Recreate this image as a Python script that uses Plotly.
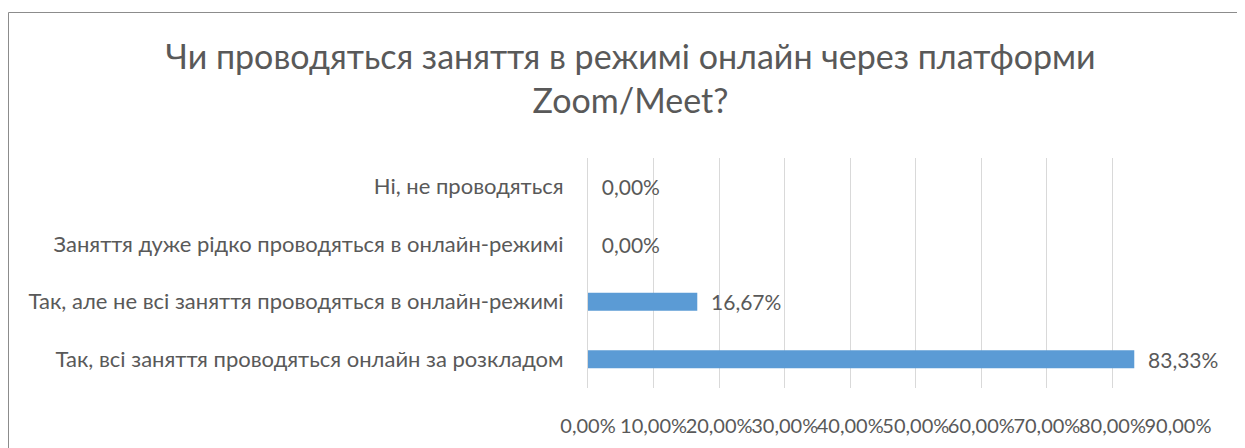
import plotly.graph_objects as go

categories = [
    "Ні, не проводяться",
    "Заняття дуже рідко проводяться в онлайн-режимі",
    "Так, але не всі заняття проводяться в онлайн-режимі",
    "Так, всі заняття проводяться онлайн за розкладом",
]
values = [0.0, 0.0, 0.1667, 0.8333]
x_ticks = [0.0, 0.1, 0.2, 0.3, 0.4, 0.5, 0.6, 0.7, 0.8, 0.9]
title_text = "Чи проводяться заняття в режимі онлайн через платформи<br>Zoom/Meet?"

FONT = "Lato, 'Open Sans', sans-serif"
GREY = "#595959"

W, H = 1245, 448
# page body has an 8px margin, so figure coords = window coords - 8
L, R, T, B = 580, 1170, 150, 380

fig = go.Figure(
    go.Bar(
        x=values,
        y=categories,
        orientation="h",
        marker=dict(color="#5b9bd5", line=dict(width=0)),
        texttemplate="\u00a0\u00a0%{x:.2%}",
        textposition="outside",
        constraintext="none",
        textfont=dict(family=FONT, size=21, color=GREY),
        cliponaxis=False,
    )
)

def px_to_paper_x(px):
    return (px - L) / (R - L)

def px_to_paper_y(py):
    return (B - py) / (B - T)

fig.add_shape(
    type="rect", xref="paper", yref="paper",
    x0=px_to_paper_x(0.5), x1=px_to_paper_x(1231),
    y0=px_to_paper_y(470), y1=px_to_paper_y(4.5),
    line=dict(color="#8c8c8c", width=1), fillcolor="rgba(0,0,0,0)", layer="below",
)

fig.update_layout(
    width=W, height=H,
    margin=dict(l=L, r=W - R, t=T, b=H - B, pad=0, autoexpand=False),
    paper_bgcolor="white", plot_bgcolor="white",
    separators=", ",
    showlegend=False,
    bargap=0.69,
    title=dict(
        text=title_text,
        font=dict(family=FONT, size=34, color=GREY),
        x=0.5, xref="container", xanchor="center",
        y=1 - 61 / H, yref="container", yanchor="top",
    ),
    font=dict(family=FONT, color=GREY),
)

fig.update_xaxes(
    range=[0, 0.9],
    tickvals=x_ticks,
    tickformat=".2%",
    tickangle=0,
    showgrid=True, gridcolor="#d9d9d9", gridwidth=1,
    zeroline=False, showline=False,
    ticks="", ticklabelstandoff=24,
    tickfont=dict(family=FONT, size=20, color=GREY),
    automargin=False,
    fixedrange=True,
)
fig.update_yaxes(
    autorange="reversed",
    showgrid=False, zeroline=False,
    showline=True, linecolor="#d9d9d9", linewidth=1,
    ticks="", ticklabelstandoff=19,
    tickfont=dict(family=FONT, size=22, color=GREY),
    automargin=False,
    fixedrange=True,
)

fig.write_html("out.html")
